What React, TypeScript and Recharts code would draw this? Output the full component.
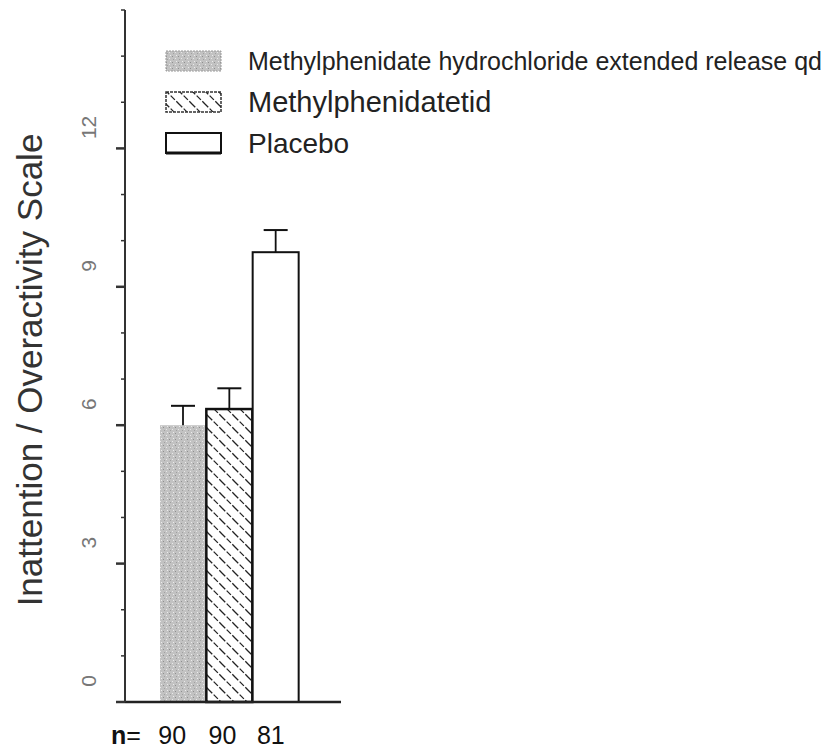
import React from 'react';
import { BarChart, Bar, Cell, XAxis, YAxis, Legend, Label } from 'recharts';

// values
const groups = ['Methylphenidate hydrochloride extended release qd', 'Methylphenidatetid', 'Placebo'];
const means = [6.0, 6.35, 9.75];
const sems = [0.42, 0.45, 0.48];
const nValues = [90, 90, 81];
const yTicks = [0, 1, 2, 3, 4, 5, 6, 7, 8, 9, 10, 11, 12, 13, 14, 15];
const yLabelTicks = [0, 3, 6, 9, 12];

const data = groups.map((group, i) => ({ group, mean: means[i], sem: sems[i], n: nValues[i] }));

const barStyles = [
  { fill: 'url(#stipple)', stroke: 'none', strokeWidth: 0 },
  { fill: 'url(#hatch)', stroke: '#111', strokeWidth: 2.5 },
  { fill: '#ffffff', stroke: '#111', strokeWidth: 2 },
];
const legendFontSizes = [25, 29, 28];
const nOffsets = [-11, -7, -5];

const FONT = '"Liberation Sans", Arial, sans-serif';

const BarWithError = (props: any) => {
  const { x, y, width, height, fill, stroke, strokeWidth, payload } = props;
  const pxPerUnit = height / payload.mean;
  const top = y - payload.sem * pxPerUnit;
  const cx = x + width / 2;
  return (
    <g>
      <rect x={x} y={y} width={width} height={height} fill={fill} stroke={stroke} strokeWidth={strokeWidth} />
      <line x1={cx} x2={cx} y1={y} y2={top} stroke="#111" strokeWidth={1.8} />
      <line x1={cx - 12} x2={cx + 12} y1={top} y2={top} stroke="#111" strokeWidth={2} />
    </g>
  );
};

const YTick = (props: any) => {
  const { x, y, payload } = props;
  const v = payload.value;
  const major = yLabelTicks.includes(v);
  return (
    <g>
      <line x1={x - (major ? 9 : 4)} x2={x} y1={y} y2={y} stroke="#333" strokeWidth={major ? 2.5 : 1.5} />
      {major && (
        <text
          transform={`translate(${x - 37},${y - 21}) rotate(-90)`}
          textAnchor="middle"
          dominantBaseline="central"
          fontSize={21}
          fill="#777"
          fontFamily={FONT}
        >
          {v}
        </text>
      )}
    </g>
  );
};

const XTick = (props: any) => {
  const { x, y, index } = props;
  return (
    <text x={x + nOffsets[index]} y={y + 33} textAnchor="middle" dominantBaseline="central" fontSize={25} fill="#111" fontFamily={FONT}>
      {nValues[index]}
    </text>
  );
};

const YTitle = () => (
  <text
    transform="translate(29,370) rotate(-90)"
    textAnchor="middle"
    dominantBaseline="central"
    fontSize={35}
    fill="#333"
    fontFamily={FONT}
  >
    Inattention / Overactivity Scale
  </text>
);

const NLabel = (props: any) => {
  const { viewBox } = props;
  return (
    <text x={viewBox.x - 14} y={viewBox.y + 33} dominantBaseline="central" fontSize={25} fill="#111" fontFamily={FONT}>
      <tspan fontWeight="bold">n</tspan>=
    </text>
  );
};

const Swatch = ({ i }: { i: number }) => {
  if (i === 0) return <rect x={1} y={2} width={55} height={20} fill="url(#stipple)" stroke="#999" strokeWidth={1} strokeDasharray="2 1" />;
  if (i === 1) return <rect x={1} y={2} width={55} height={20} fill="url(#hatch)" stroke="#333" strokeWidth={1.5} strokeDasharray="3 1" />;
  return (
    <g>
      <rect x={1} y={2} width={55} height={20} fill="#fff" stroke="#111" strokeWidth={2} />
      <line x1={1} x2={56} y1={22} y2={22} stroke="#111" strokeWidth={3} />
    </g>
  );
};

const LegendContent = () => (
  <div style={{ fontFamily: FONT, color: '#222' }}>
    {groups.map((g, i) => (
      <div key={g} style={{ display: 'flex', alignItems: 'center', height: 41, whiteSpace: 'nowrap' }}>
        <svg width={58} height={25}>
          <Swatch i={i} />
        </svg>
        <span style={{ marginLeft: 25, fontSize: legendFontSizes[i] }}>{g}</span>
      </div>
    ))}
  </div>
);

export default function App() {
  return (
    <div style={{ position: 'absolute', left: 0, top: 0, width: 830, height: 749, background: '#fff', fontFamily: FONT }}>
      <BarChart
        width={830}
        height={749}
        data={data}
        margin={{ top: 10, right: 489, bottom: 0, left: 0 }}
        barCategoryGap={0}
        barGap={0}
      >
        <defs>
          <pattern id="stipple" width="6" height="6" patternUnits="userSpaceOnUse">
            <rect width="6" height="6" fill="#c2c2c2" />
            <rect x="1" y="1" width="1" height="1" fill="#8f8f8f" />
            <rect x="4" y="3" width="1" height="1" fill="#e8e8e8" />
            <rect x="2" y="4" width="1" height="1" fill="#a0a0a0" />
            <rect x="5" y="0" width="1" height="1" fill="#ececec" />
          </pattern>
          <pattern id="hatch" width="13" height="13" patternUnits="userSpaceOnUse">
            <rect width="13" height="13" fill="#fff" />
            <path d="M0,0 L13,13 M-2,11 L2,15 M11,-2 L15,2" stroke="#222" strokeWidth={1.3} strokeDasharray="6 2" />
          </pattern>
        </defs>
        <XAxis
          dataKey="group"
          height={47}
          padding={{ left: 35, right: 42 }}
          axisLine={{ stroke: '#222', strokeWidth: 2.5 }}
          tickLine={false}
          tickSize={0}
          tickMargin={0}
          tick={<XTick />}
          interval={0}
        >
          <Label content={<NLabel />} />
        </XAxis>
        <YAxis
          width={125}
          domain={[0, 15]}
          ticks={yTicks}
          interval={0}
          axisLine={{ stroke: '#333', strokeWidth: 2 }}
          tickLine={false}
          tickSize={0}
          tickMargin={0}
          tick={<YTick />}
        >
          <Label content={<YTitle />} />
        </YAxis>
        <Legend
          layout="vertical"
          align="center"
          verticalAlign="middle"
          content={<LegendContent />}
          wrapperStyle={{ left: 165, top: 41, width: 'auto', height: 'auto' }}
        />
        <Bar dataKey="mean" shape={<BarWithError />} isAnimationActive={false}>
          {data.map((d, i) => (
            <Cell key={d.group} fill={barStyles[i].fill} stroke={barStyles[i].stroke} strokeWidth={barStyles[i].strokeWidth} />
          ))}
        </Bar>
      </BarChart>
    </div>
  );
}
